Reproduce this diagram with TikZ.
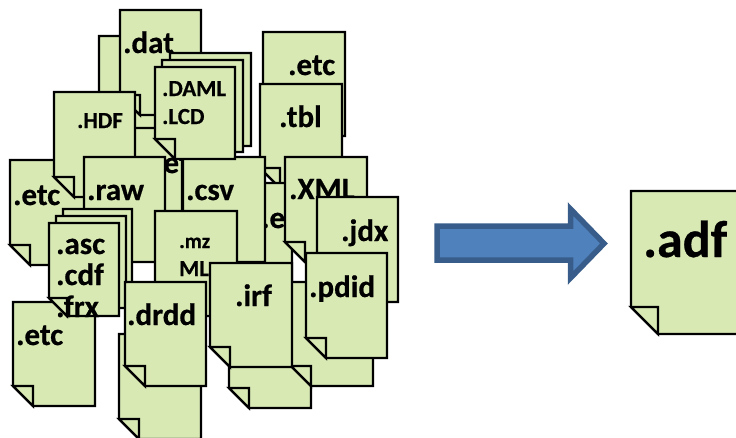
\documentclass[tikz,border=0pt]{standalone}
\usepackage{fontspec}
\setmainfont{Carlito}[BoldFeatures={FakeBold=0.6}]
\definecolor{docgreen}{HTML}{D8E9B4}
\definecolor{arrowfill}{HTML}{4F81BD}
\definecolor{arrowline}{HTML}{385D8A}
\tikzset{
  pagefill/.style={draw=black,fill=docgreen,line width=2.3pt,line join=miter},
  lab/.style={anchor=base west,inner sep=0pt,xshift=-1pt,font=\bfseries\fontsize{#1}{#1}\selectfont,text=black},
  lab/.default=31
}
% \docpage{x}{y}{w}{h}{fold}
\newcommand{\docpage}[5]{%
  \draw[pagefill] (#1,#2) -- ++(#3,0) -- ++(0,#4) -- ++({#5-#3},0) -- ++(-#5,-#5) -- cycle;
  \draw[pagefill] (#1,{#2+#4-#5}) -- ++(#5,0) -- ++(0,#5) -- cycle;
}
\begin{document}
\begin{tikzpicture}[x=1pt,y=-1pt]
\useasboundingbox (0,0) rectangle (736,437);
\clip (0,0) rectangle (736,437);
% back layer
\docpage{99}{36}{82}{104}{20}
\docpage{120}{10}{81}{105}{20}
\node[lab] (dat) at (124,53) {.dat};
\docpage{100}{128}{82}{105}{20}
\node[lab] (etcA) at (156,173) {.etc};
\docpage{263}{32}{82}{104}{20}
\node[lab] (etcB) at (289,75) {.etc};
\docpage{260}{84}{82}{104}{20}
\node[lab] (tbl) at (280,127) {.tbl};
\docpage{210}{183}{82}{99}{20}
\node[lab] (etcC) at (262,228) {.etc};
\docpage{229}{304}{82}{104}{20}
\docpage{291}{282}{82}{104}{20}
% left group
\docpage{10}{160}{82}{105}{20}
\node[lab] (etcD) at (14,205) {.etc};
\docpage{54}{92}{81}{105}{20}
\node[lab=23] (hdf) at (78,128) {.HDF};
\docpage{84}{157}{81}{105}{20}
\node[lab] (raw) at (88,200) {.raw};
\docpage{183}{157}{82}{105}{20}
\node[lab] (csv) at (187,200) {.csv};
% DAML stack
\docpage{170}{53}{81}{93}{20}
\docpage{162}{60}{81}{92}{20}
\docpage{155}{67}{80}{92}{20}
\node[lab=23] (daml) at (163,96) {.DAML};
\node[lab=23] (lcd) at (163,124) {.LCD};
% middle
\docpage{155}{211}{82}{105}{20}
\node[lab=21] (mz) at (180,248) {.mz};
\node[lab=23] (ml) at (180,276) {ML};
\docpage{285}{157}{82}{105}{20}
\node[lab] (xml) at (290,199) {.XML};
\docpage{317}{197}{81}{105}{20}
\node[lab] (jdx) at (342,241) {.jdx};
\docpage{306}{253}{81}{105}{20}
\node[lab] (pdid) at (310,297) {.pdid};
% lower left
\docpage{13}{302}{82}{104}{20}
\node[lab] (etcE) at (17,345) {.etc};
\docpage{63}{209}{69}{93}{18}
\docpage{56}{216}{70}{92}{18}
\docpage{49}{223}{70}{93}{18}
\node[lab] (asc) at (57,254) {.asc};
\node[lab] (cdf) at (57,285) {.cdf};
\node[lab] (frx) at (57,317) {.frx};
\docpage{119}{334}{82}{105}{20}
\docpage{125}{282}{81}{104}{20}
\node[lab] (drdd) at (128,325) {.drdd};
\docpage{210}{263}{82}{104}{20}
\node[lab] (irf) at (236,306) {.irf};
% arrow
\draw[draw=arrowline,fill=arrowfill,line width=5.5pt,line join=miter,miter limit=10]
  (437,226) -- (570.5,226) -- (570.5,209) -- (604,243.5) -- (570.5,278) -- (570.5,260) -- (437,260) -- cycle;
% result
\docpage{631}{191}{115}{143}{27}
\node[lab=52] (adf) at (644,257) {.adf};
\end{tikzpicture}
\end{document}
